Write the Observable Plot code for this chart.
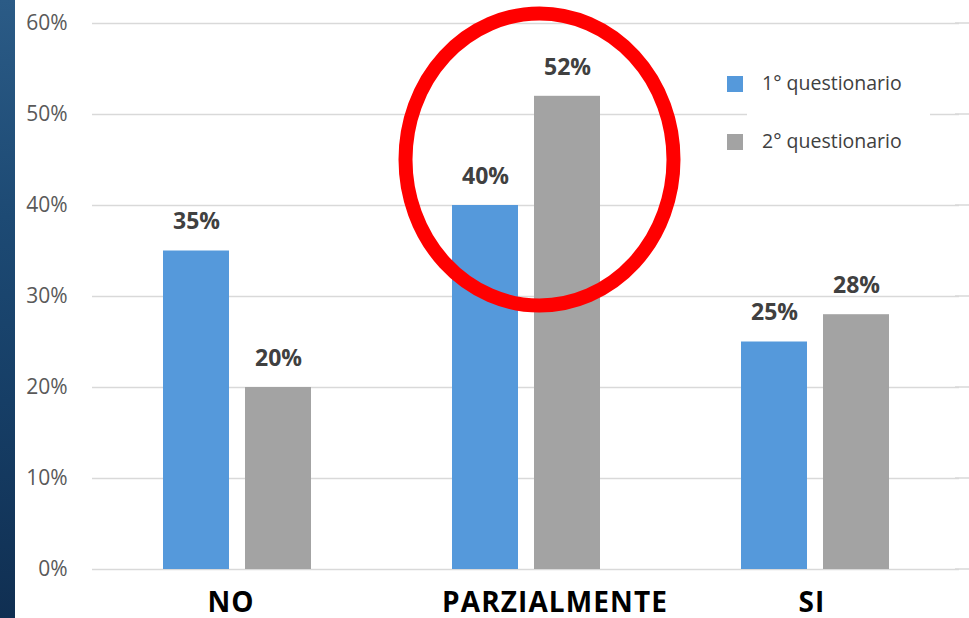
<!DOCTYPE html>
<html>
<head>
<meta charset="utf-8">
<script src="https://cdn.jsdelivr.net/npm/d3@7"></script>
<script src="https://cdn.jsdelivr.net/npm/@observablehq/plot@0.6"></script>
<style>
  html, body { margin: 0; padding: 0; background: #fff; }
  #wrap { position: relative; width: 969px; height: 618px; overflow: hidden; background: #fff; }
  #strip { position: absolute; left: 0; top: 0; width: 15px; height: 618px;
    background: linear-gradient(180deg, #2b5b86 0%, #1d4a74 35%, #163e66 65%, #102f52 100%); }
  #chart { position: absolute; left: 0; top: 0; }
  #chart svg [aria-label^="fx-axis"] text { font-size: 28px; font-weight: 700; fill: #000; letter-spacing: 1.1px; }
  #chart svg [aria-label^="y-axis"] text { font-size: 21px; fill: #595959; }
  #legend { position: absolute; left: 747px; top: 58px; width: 183px; height: 112px; background: #fff; }
  .lg-row { position: absolute; left: 0; height: 24px; display: flex; align-items: center;
    font-family: "Open Sans", sans-serif; font-size: 19.5px; color: #404040; white-space: nowrap; }
  .lg-sw { position: absolute; width: 16px; height: 16px; }
</style>
</head>
<body>
<div id="wrap">
  <div id="strip"></div>
  <div id="chart"></div>
  <div id="legend"></div>
</div>
<script>
const categories = ["NO", "PARZIALMENTE", "SI"];
const series = ["1° questionario", "2° questionario"];
const values1 = [35, 40, 25];
const values2 = [20, 52, 28];
const colors = ["#5599db", "#a3a3a3"];
const yTicks = [0, 10, 20, 30, 40, 50, 60];
const highlightCategory = "PARZIALMENTE";
const highlightValue = 45;

const data = categories.flatMap((c, i) => [
  {cat: c, series: series[0], value: values1[i]},
  {cat: c, series: series[1], value: values2[i]}
]);

const plot = Plot.plot({
  width: 969,
  height: 618,
  marginLeft: 92,
  marginRight: 10,
  marginTop: 23,
  marginBottom: 49,
  style: {fontFamily: "Open Sans, sans-serif", background: "transparent", overflow: "visible"},
  fx: {domain: categories, padding: 0, label: null, tickSize: 0, tickPadding: 23, axis: "bottom"},
  x: {domain: series, axis: null, paddingInner: 0.2, paddingOuter: 0.85},
  y: {domain: [0, 60], ticks: yTicks, tickFormat: d => d + "%", label: null, tickSize: 0, tickPadding: 25},
  color: {domain: series, range: colors},
  marks: [
    Plot.ruleY(yTicks, {stroke: "#d9d9d9", strokeWidth: 1.5}),
    Plot.barY(data, {fx: "cat", x: "series", y: "value", fill: "series"}),
    Plot.text(data, {fx: "cat", x: "series", y: "value", text: d => d.value + "%", dy: -29,
      fontSize: 23, fontWeight: "bold", fill: "#404040"})
  ]
});
document.getElementById("chart").appendChild(plot);

// the reference's category labels sit slightly off their bar groups
const labelNudge = {"NO": -6, "PARZIALMENTE": 29, "SI": -3};
d3.select(plot).selectAll('[aria-label^="fx-axis"] text').each(function() {
  const t = d3.select(this).text().trim();
  if (t in labelNudge) d3.select(this).attr("dx", labelNudge[t]);
});

// extend gridlines to the right edge of the picture, as in the reference
const ys = plot.scale("y");
d3.select(plot).insert("g", ":first-child").selectAll("line")
  .data(yTicks).join("line")
  .attr("x1", 955).attr("x2", 969)
  .attr("y1", d => ys.apply(d)).attr("y2", d => ys.apply(d))
  .attr("stroke", "#d9d9d9").attr("stroke-width", 1.5);

// red highlight ellipse, positioned with the plot's scales
const fx = plot.scale("fx");
const cx = fx.apply(highlightCategory) + fx.bandwidth / 2 + 14;
const cy = ys.apply(highlightValue);
d3.select(plot).append("ellipse")
  .attr("cx", cx).attr("cy", cy).attr("rx", 134).attr("ry", 146)
  .attr("fill", "none").attr("stroke", "#ff0000").attr("stroke-width", 14);

// legend
const legend = d3.select("#legend");
const wrap = d3.select("#wrap");
series.forEach((s, i) => {
  const top = 84 + i * 58;
  wrap.append("div").attr("class", "lg-sw")
    .style("left", "727px").style("top", (top - 8) + "px")
    .style("background", plot.scale("color").apply(s));
  legend.append("div").attr("class", "lg-row")
    .style("left", "15px").style("top", (top - 58 - 14) + "px")
    .text(s);
});
</script>
</body>
</html>
